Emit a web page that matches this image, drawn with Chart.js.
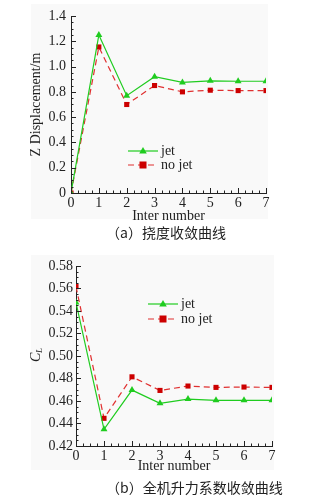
<!DOCTYPE html>
<html>
<head>
<meta charset="utf-8">
<script src="https://cdn.jsdelivr.net/npm/chart.js@4"></script>
<style>
  body { margin: 0; background: #fff; width: 325px; height: 498px; position: relative; overflow: hidden; }
  .box { position: absolute; left: 0; width: 325px; height: 225px; }
  .cap { position: absolute; left: 106px; font-family: "Noto Sans CJK SC", serif; font-size: 14px; color: #222; white-space: nowrap; line-height: 16px; }
</style>
</head>
<body>
<div class="box" style="top:0"><canvas id="dispChart"></canvas></div>
<div class="cap" style="top:224px">（a）挠度收敛曲线</div>
<div class="box" style="top:250px"><canvas id="liftChart"></canvas></div>
<div class="cap" style="top:479px">（b）全机升力系数收敛曲线</div>
<script>
const iters = [0, 1, 2, 3, 4, 5, 6, 7];
const dispJet   = [0, 1.25, 0.77, 0.92, 0.875, 0.887, 0.884, 0.884];
const dispNoJet = [0, 1.155, 0.70, 0.85, 0.80, 0.813, 0.81, 0.81];
const liftJet   = [0.5475, 0.4348, 0.4697, 0.4579, 0.4617, 0.4606, 0.4606, 0.4606];
const liftNoJet = [0.5617, 0.4446, 0.4815, 0.4694, 0.4733, 0.4721, 0.4724, 0.4721];
const xTicks = ['0', '1', '2', '3', '4', '5', '6', '7'];
const dispTicks = ['0', '0.2', '0.4', '0.6', '0.8', '1.0', '1.2', '1.4'];
const liftTicks = ['0.42', '0.44', '0.46', '0.48', '0.50', '0.52', '0.54', '0.56', '0.58'];

const serif = '"Liberation Serif", "Times New Roman", serif';
const ink = '#222';
const green = '#1fcc1f';
const red = '#e03030';
const darkRed = '#cc0000';

function pts(ys) { return iters.map((x, i) => ({ x: x, y: ys[i] })); }

// inward major/minor ticks, panel background, legend
const decor = {
  id: 'decor',
  beforeDraw(chart, args, o) {
    const c = chart.ctx;
    c.save();
    c.fillStyle = '#f9f9f9';
    c.fillRect(o.panel[0], o.panel[1], o.panel[2], o.panel[3]);
    c.restore();
  },
  afterDraw(chart, args, o) {
    const c = chart.ctx, a = chart.chartArea;
    const xs = chart.scales.x, ys = chart.scales.y;
    c.save();
    c.strokeStyle = ink;
    c.lineWidth = 1;
    c.beginPath();
    const xStep = 1, yStep = o.yStep;
    for (let v = xs.min; v <= xs.max + 1e-9; v += xStep / 4) {
      const px = Math.round(xs.getPixelForValue(v)) + 0.5;
      const major = Math.abs(v / xStep - Math.round(v / xStep)) < 1e-6;
      c.moveTo(px, a.bottom);
      c.lineTo(px, a.bottom - (major ? 5 : 2.5));
    }
    for (let v = ys.min; v <= ys.max + 1e-9; v += yStep / 4) {
      const py = Math.round(ys.getPixelForValue(v)) + 0.5;
      const major = Math.abs(v / yStep - Math.round(v / yStep)) < 1e-6;
      c.moveTo(a.left, py);
      c.lineTo(a.left + (major ? 5 : 2.5), py);
    }
    c.stroke();

    // legend
    const L = o.legend;
    chart.data.datasets.forEach((ds, i) => {
      const y = L.y + i * L.gap;
      c.strokeStyle = ds.borderColor;
      c.lineWidth = ds.borderWidth;
      c.setLineDash(ds.borderDash || []);
      c.beginPath();
      c.moveTo(L.x, y);
      c.lineTo(L.x + 30, y);
      c.stroke();
      c.setLineDash([]);
      c.fillStyle = ds.pointBackgroundColor;
      const cx = L.x + 15;
      if (ds.pointStyle === 'triangle') {
        c.beginPath();
        c.moveTo(cx, y - 4);
        c.lineTo(cx + 3.8, y + 2.6);
        c.lineTo(cx - 3.8, y + 2.6);
        c.closePath();
        c.fill();
      } else {
        c.fillRect(cx - 3.5, y - 3.5, 7, 7);
      }
      c.fillStyle = ink;
      c.font = '14px ' + serif;
      c.textBaseline = 'middle';
      c.fillText(ds.label, L.x + 33, y);
    });

    if (o.cl) {
      c.save();
      c.translate(36, (a.top + a.bottom) / 2);
      c.rotate(-Math.PI / 2);
      c.fillStyle = ink;
      c.textBaseline = 'middle';
      c.font = 'italic 14px ' + serif;
      c.fillText('C', -6, 0);
      c.font = 'italic 9px ' + serif;
      c.fillText('L', 3, 4);
      c.restore();
    }
    c.restore();
  }
};

function makeChart(id, jet, noJet, yMin, yMax, yStep, yLabels, opts) {
  return new Chart(document.getElementById(id), {
    type: 'line',
    data: {
      datasets: [
        { label: 'jet', data: pts(jet), borderColor: green, borderWidth: 1.2,
          pointStyle: 'triangle', pointRadius: 4, pointBackgroundColor: green,
          pointBorderColor: green, pointBorderWidth: 0, tension: 0 },
        { label: 'no jet', data: pts(noJet), borderColor: red, borderWidth: 1.2,
          borderDash: [6, 4], pointStyle: 'rect', pointRadius: 3.6,
          pointBackgroundColor: darkRed, pointBorderColor: darkRed, pointBorderWidth: 0, tension: 0 }
      ]
    },
    options: {
      responsive: true,
      maintainAspectRatio: false,
      animation: false,
      events: [],
      layout: { padding: { left: 28, top: 16, right: opts.right, bottom: 0 } },
      scales: {
        x: {
          type: 'linear', min: 0, max: 7,
          afterFit(s) { s.height = opts.xh; },
          grid: { display: true, drawOnChartArea: false, drawTicks: false },
          border: { display: true, color: ink, width: 1 },
          ticks: { stepSize: 1, padding: 2, color: ink, font: { family: serif, size: 14 },
                   callback: (v, i) => xTicks[i] },
          title: { display: true, text: 'Inter number', color: ink, padding: { top: -2, bottom: 0 },
                   font: { family: serif, size: 14 } }
        },
        y: {
          min: yMin, max: yMax,
          afterFit(s) { s.width = opts.yw; },
          grid: { display: true, drawOnChartArea: false, drawTicks: false },
          border: { display: true, color: ink, width: 1 },
          ticks: { stepSize: yStep, padding: opts.ypad, color: ink, font: { family: serif, size: 14 },
                   callback: (v, i) => yLabels[i] },
          title: { display: !!opts.ytitle, text: opts.ytitle || '', color: ink, padding: 0,
                   font: { family: serif, size: 14 } }
        }
      },
      plugins: {
        legend: { display: false },
        tooltip: { enabled: false },
        decor: { panel: opts.panel, yStep: yStep, legend: opts.legend, cl: opts.cl }
      }
    },
    plugins: [decor]
  });
}

makeChart('dispChart', dispJet, dispNoJet, 0, 1.4, 0.2, dispTicks, {
  right: 59, xh: 32, yw: 43, ypad: 5, ytitle: 'Z Displacement/m',
  panel: [31, 4, 237, 215], legend: { x: 128, y: 151, gap: 14 }
});
makeChart('liftChart', liftJet, liftNoJet, 0.42, 0.58, 0.02, liftTicks, {
  right: 53, xh: 29, yw: 48, ypad: 3, cl: true,
  panel: [31, 5, 243, 215], legend: { x: 148, y: 54, gap: 15 }
});
</script>
</body>
</html>
